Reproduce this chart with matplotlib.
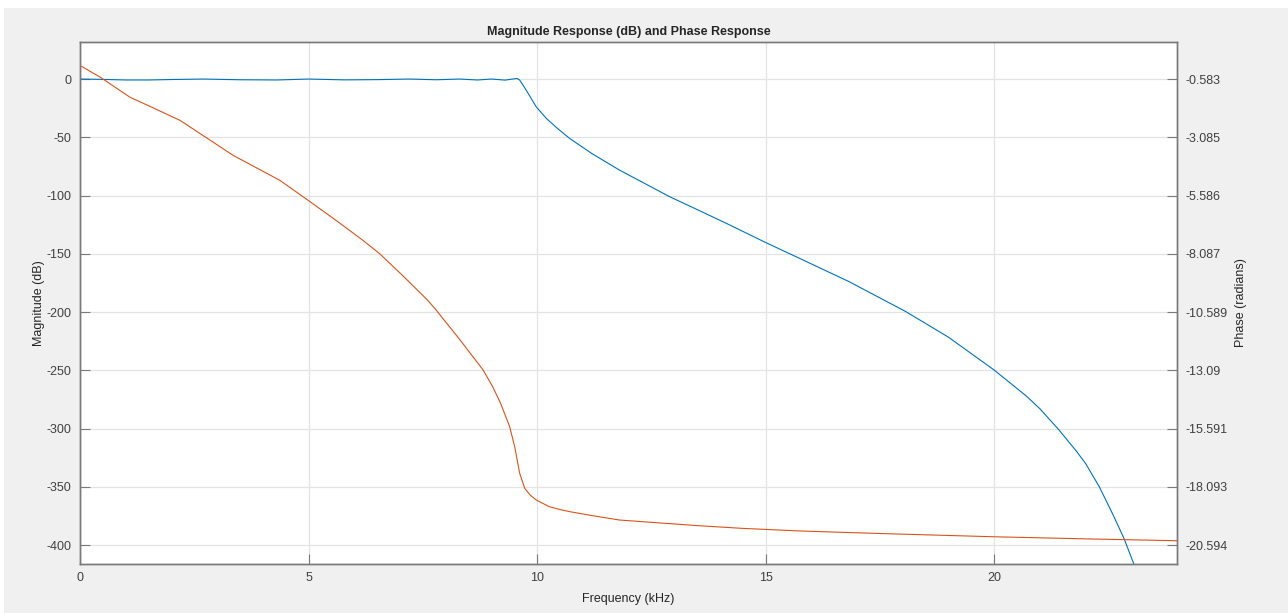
import matplotlib.pyplot as plt
from matplotlib.patches import Rectangle

plt.rcParams['font.family'] = ['Liberation Sans', 'DejaVu Sans']
plt.rcParams['axes.unicode_minus'] = False

# magnitude response (dB) vs frequency (kHz)
mag_freq = [0.0, 0.5, 1.0, 1.5, 2.0, 2.7, 3.5, 4.3, 5.0, 5.8, 6.5, 7.2, 7.8, 8.3,
            8.7, 9.0, 9.3, 9.56, 9.62, 9.76, 9.98, 10.2, 10.45, 10.71, 11.2, 11.8,
            12.3, 12.9, 13.5, 14.2, 15.01, 15.74, 16.83, 18.07, 19.0, 20.0, 20.7,
            21.0, 21.42, 21.8, 22.0, 22.3, 22.6, 22.84, 23.05, 23.4]
mag_db = [0.0, -0.3, -0.8, -0.8, -0.4, 0.0, -0.6, -0.8, 0.0, -0.7, -0.5, 0.0, -0.6, 0.0,
          -0.8, 0.0, -0.9, 0.5, -0.9, -9.4, -23.8, -33.7, -42.5, -50.9, -64.0, -78.1,
          -88.5, -101.0, -112.0, -125.0, -140.5, -153.9, -174.0, -199.7, -221.6,
          -249.8, -272.0, -283.0, -301.3, -319.5, -330.0, -350.0, -374.0, -394.3,
          -415.7, -470.0]

# phase response (radians)
ph_freq = [0.0, 0.44, 1.09, 1.6, 2.19, 2.91, 3.35, 4.37, 4.99, 5.6, 6.19, 6.56, 7.1,
           7.61, 7.79, 8.3, 8.82, 9.03, 9.2, 9.40, 9.51, 9.62, 9.73, 9.85, 9.98, 10.27,
           10.5, 10.71, 11.2, 11.8, 12.5, 13.5, 14.5, 15.74, 17.5, 20.0, 22.0, 24.0]
ph_rad = [0.0, -0.50, -1.36, -1.82, -2.36, -3.29, -3.86, -4.93, -5.79, -6.65, -7.51,
          -8.09, -9.10, -10.09, -10.50, -11.75, -13.08, -13.80, -14.50, -15.51, -16.37,
          -17.52, -18.16, -18.45, -18.66, -18.95, -19.07, -19.16, -19.33, -19.52,
          -19.62, -19.76, -19.88, -19.99, -20.10, -20.24, -20.33, -20.41]

mag_ticks = [0, -50, -100, -150, -200, -250, -300, -350, -400]
ph_tick_labels = ['-0.583', '-3.085', '-5.586', '-8.087', '-10.589', '-13.09',
                  '-15.591', '-18.093', '-20.594']

mag_lim = (-416.3, 31.8)
ph_offset, ph_scale = -0.583, 0.0500275

blue = (0.0, 0.447, 0.741)
orange = (0.851, 0.325, 0.098)
spine_c = '#7a7a7a'
text_c = '#404040'

fig = plt.figure(figsize=(12.88, 6.13), dpi=100)
fig.patch.set_facecolor('white')
# grey panel behind the axes, leaving a thin white border top/left
panel = Rectangle((4 / 1288, 0), 1 - 4 / 1288, 1 - 8 / 613,
                  transform=fig.transFigure, facecolor='#f0f0f0',
                  edgecolor='none', zorder=-10)
fig.add_artist(panel)

ax = fig.add_axes([80 / 1288, 1 - 564 / 613, 1097 / 1288, 522 / 613])
ax.set_facecolor('white')
ax.plot(mag_freq, mag_db, color=blue, lw=0.8)
ax.set_xlim(0, 24)
ax.set_ylim(*mag_lim)
ax.set_yticks(mag_ticks)
ax.set_xticks([0, 5, 10, 15, 20])
ax.grid(True, color='#e3e3e3', lw=0.9)
ax.set_axisbelow(True)
ax.set_xlabel('Frequency (kHz)', fontsize=9, color='#262626', labelpad=6)
ax.set_ylabel('Magnitude (dB)', fontsize=9, color='#262626', labelpad=1)
ax.set_title('Magnitude Response (dB) and Phase Response', fontsize=9,
             fontweight='bold', color='#262626', pad=5)

ax2 = ax.twinx()
ax2.plot(ph_freq, ph_rad, color=orange, lw=0.8)
ax2.set_ylim(ph_offset + ph_scale * mag_lim[0], ph_offset + ph_scale * mag_lim[1])
ax2.set_yticks([ph_offset + ph_scale * t for t in mag_ticks])
ax2.set_yticklabels(ph_tick_labels)
ax2.set_ylabel('Phase (radians)', fontsize=9, color='#262626', labelpad=5)

for a in (ax, ax2):
    a.tick_params(direction='in', length=7, width=0.8, color=spine_c,
                  labelsize=9, labelcolor=text_c, pad=6)
    for s in a.spines.values():
        s.set_color(spine_c)
        s.set_linewidth(1.0)

fig.savefig('out.png', dpi=100, facecolor=fig.get_facecolor())
